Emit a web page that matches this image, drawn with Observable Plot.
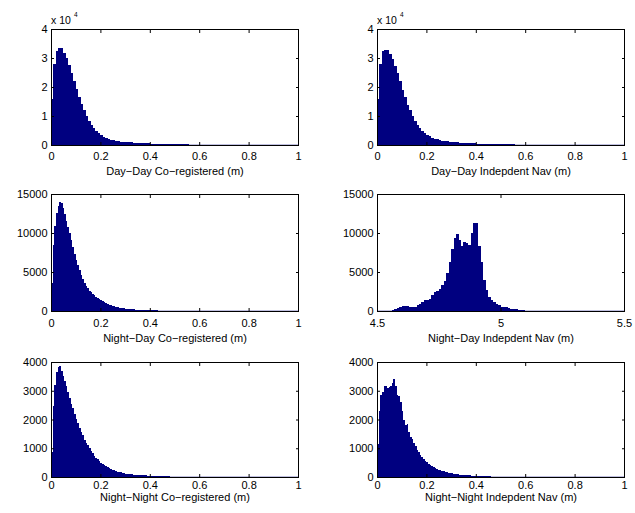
<!DOCTYPE html>
<html><head><meta charset="utf-8">
<script src="https://cdn.jsdelivr.net/npm/d3@7"></script>
<script src="https://cdn.jsdelivr.net/npm/@observablehq/plot@0.6"></script>
<style>
body{margin:0;background:#fff;}
#c{position:relative;width:635px;height:513px;font-family:"Liberation Sans",Arial,Helvetica,sans-serif;background:#fff;}
.p{position:absolute;}
.exp{position:absolute;font-size:10.5px;line-height:10px;white-space:nowrap;color:#000;}
.sup{position:absolute;font-size:6.5px;line-height:7px;color:#000;}
</style></head><body><div id="c"></div>
<script>
// ---- axis tick values ----
const xTicksUnit = [0, 0.2, 0.4, 0.6, 0.8, 1];
const xTicksNav = [4.5, 5, 5.5];
const yTicks4e4 = [0, 10000, 20000, 30000, 40000];
const yTicks15k = [0, 5000, 10000, 15000];
const yTicks4k = [0, 1000, 2000, 3000, 4000];

// ---- x labels ----
const labels = [
  "Day\u2212Day Co\u2212registered (m)",
  "Day\u2212Day Indepdent Nav (m)",
  "Night\u2212Day Co\u2212registered (m)",
  "Night\u2212Day Indepdent Nav (m)",
  "Night\u2212Night Co\u2212registered (m)",
  "Night\u2212Night Indepdent Nav (m)"
];

// ---- histogram counts (bin starts at binStart, each binWidth wide) ----
const dayDayCoreg = [15800, 28000, 32500, 33400, 33400, 31700, 30000, 27700, 25000, 22200,
  19300, 16500, 14200, 12100, 10100, 8400, 6900, 5800, 4800, 4000,
  3300, 2800, 2300, 2000, 1800, 1600, 1450, 1300, 1200, 1120,
  1050, 970, 900, 830, 770, 710, 660, 610, 570, 530,
  500, 470, 440, 410, 380, 350, 330, 310, 290, 270,
  250, 235, 220, 205, 190, 180, 170, 160, 150, 140,
  130, 120, 115, 110, 105, 100, 95, 90, 85, 80,
  75, 70, 66, 62, 58, 55, 52, 49, 46, 43,
  40, 38, 36, 34, 32, 30, 28, 26, 25, 24,
  23, 22, 21, 20, 19, 18, 17, 16, 15, 14];
const dayDayNav = [15800, 28000, 32300, 32800, 32800, 31500, 29600, 27400, 24800, 22000,
  19000, 16400, 13800, 11900, 10000, 8400, 7000, 5900, 5000, 4100,
  3600, 3000, 2500, 2150, 1900, 1700, 1530, 1380, 1250, 1140,
  1050, 970, 900, 830, 770, 710, 660, 610, 570, 530,
  500, 470, 440, 410, 380, 350, 330, 310, 290, 270,
  250, 235, 220, 205, 190, 180, 170, 160, 150, 140,
  130, 120, 115, 110, 105, 100, 95, 90, 85, 80,
  75, 70, 66, 62, 58, 55, 52, 49, 46, 43,
  40, 38, 36, 34, 32, 30, 28, 26, 25, 24,
  23, 22, 21, 20, 19, 18, 17, 16, 15, 14];
const nightDayCoreg = [3600, 8400, 10900, 12600, 13500, 14000, 13800, 13200, 12400, 11600,
  10800, 10000, 9100, 8200, 7300, 6600, 5900, 5200, 4600, 4100,
  3600, 3200, 2900, 2600, 2400, 2200, 2000, 1800, 1650, 1500,
  1380, 1250, 1120, 1000, 900, 800, 720, 650, 580, 520,
  470, 430, 400, 370, 340, 310, 280, 260, 240, 220,
  200, 190, 180, 170, 150, 140, 130, 120, 110, 100,
  90, 80, 75, 70, 65, 60, 55, 50, 45, 40,
  35, 30, 28, 25, 22, 20, 18, 15, 12, 10];
const nightDayNav = [100, 300, 400, 550, 600, 650, 600, 500, 450, 550,
  800, 900, 1200, 1400, 1450, 1600, 2000, 2400, 2600, 2800,
  3300, 3800, 4900, 6300, 7900, 9300, 9900, 9100, 8300, 8800,
  8700, 8400, 10000, 11300, 11300, 8300, 6300, 4000, 2700, 1800,
  1400, 1100, 900, 800, 550, 500, 450, 400, 300, 250,
  200, 150, 100, 80, 50, 30];
const nightNightCoreg = [870, 2480, 3200, 3650, 3830, 3850, 3700, 3520, 3350, 3150,
  2950, 2750, 2550, 2400, 2200, 2020, 1870, 1720, 1580, 1450,
  1300, 1200, 1100, 1000, 900, 820, 740, 670, 620, 560,
  500, 460, 420, 380, 340, 310, 280, 260, 230, 210,
  190, 170, 160, 140, 130, 120, 110, 100, 95, 90,
  85, 80, 75, 70, 65, 60, 58, 55, 50, 48,
  45, 40, 38, 35, 32, 30, 28, 26, 24, 22,
  20, 18, 16, 15, 14, 13, 12, 11, 10];
const nightNightNav = [1150, 2300, 2850, 2950, 3150, 3180, 3100, 3120, 3150, 3280,
  3400, 3150, 2850, 2820, 2600, 2300, 2000, 1800, 1850, 1560,
  1400, 1330, 1200, 1080, 930, 860, 750, 690, 630, 570,
  510, 460, 430, 400, 360, 320, 290, 260, 240, 220,
  200, 180, 160, 150, 140, 130, 120, 110, 100, 90,
  85, 80, 75, 70, 65, 60, 55, 50, 45, 40,
  38, 35, 32, 30, 28, 25, 22, 20, 18, 16,
  14, 12, 10];

const fmtX = d3.format("~g");
const fmtE4 = d => String(d / 10000);
const fmtInt = d3.format("d");

const navy = "#000080";
const container = document.getElementById("c");

function panel(o) {
  const data = o.values.map((v, i) => ({x1: o.binStart + i * o.binWidth, x2: o.binStart + (i + 1) * o.binWidth, y: v}));
  const svg = Plot.plot({
    width: o.w, height: o.h,
    marginLeft: o.mL, marginRight: o.mR, marginTop: o.mT, marginBottom: o.mB,
    style: {fontFamily: "'Liberation Sans', Arial, Helvetica, sans-serif", fontSize: "11px", color: "black", background: "none", overflow: "visible"},
    x: {domain: o.xDomain},
    y: {domain: o.yDomain},
    marks: [
      Plot.rectY(data, {x1: "x1", x2: "x2", y: "y", fill: navy, shapeRendering: "crispEdges", clip: true}),
      Plot.frame({stroke: "black", strokeWidth: 1}),
      Plot.ruleY([0], {stroke: navy, strokeWidth: 1.5, clip: true}),
      Plot.axisX(o.xTicks, {anchor: "bottom", tickSize: -3, tickFormat: () => "", label: null}),
      Plot.axisX(o.xTicks, {anchor: "top", tickSize: -3, tickFormat: () => "", label: null}),
      Plot.axisY(o.yTicks, {anchor: "left", tickSize: -3, tickFormat: () => "", label: null}),
      Plot.axisY(o.yTicks, {anchor: "right", tickSize: -3, tickFormat: () => "", label: null}),
      Plot.axisX(o.xTicks, {anchor: "bottom", tickSize: 0, tickPadding: o.tp, tickFormat: fmtX,
        label: o.label, labelAnchor: "center", labelArrow: "none", labelOffset: o.lo, fontSize: 11}),
      Plot.axisY(o.yTicks, {anchor: "left", tickSize: 0, tickPadding: 4, tickFormat: o.yFormat, label: null})
    ]
  });
  svg.classList.add("p");
  svg.style.left = o.left + "px";
  svg.style.top = o.top + "px";
  container.appendChild(svg);
}

const col = [{left: 0, w: 318, mL: 51, mR: 20}, {left: 318, w: 317, mL: 59, mR: 11}];
const row = [
  {top: 0, h: 171, mT: 29, mB: 26, tp: 7, lo: 29},
  {top: 171, h: 171, mT: 23, mB: 31, tp: 8, lo: 30.5},
  {top: 342, h: 171, mT: 20, mB: 36, tp: 3.5, lo: 23.5}
];

const specs = [
  {values: dayDayCoreg, binStart: 0, binWidth: 0.01, xDomain: [0, 1], xTicks: xTicksUnit, yDomain: [0, 40000], yTicks: yTicks4e4, yFormat: fmtE4, label: labels[0], r: 0, c: 0},
  {values: dayDayNav, binStart: 0, binWidth: 0.01, xDomain: [0, 1], xTicks: xTicksUnit, yDomain: [0, 40000], yTicks: yTicks4e4, yFormat: fmtE4, label: labels[1], r: 0, c: 1},
  {values: nightDayCoreg, binStart: 0, binWidth: 1 / 150, xDomain: [0, 1], xTicks: xTicksUnit, yDomain: [0, 15000], yTicks: yTicks15k, yFormat: fmtInt, label: labels[2], r: 1, c: 0},
  {values: nightDayNav, binStart: 4.56, binWidth: 0.01, xDomain: [4.5, 5.5], xTicks: xTicksNav, yDomain: [0, 15000], yTicks: yTicks15k, yFormat: fmtInt, label: labels[3], r: 1, c: 1},
  {values: nightNightCoreg, binStart: 0, binWidth: 1 / 150, xDomain: [0, 1], xTicks: xTicksUnit, yDomain: [0, 4000], yTicks: yTicks4k, yFormat: fmtInt, label: labels[4], r: 2, c: 0},
  {values: nightNightNav, binStart: 0, binWidth: 1 / 150, xDomain: [0, 1], xTicks: xTicksUnit, yDomain: [0, 4000], yTicks: yTicks4k, yFormat: fmtInt, label: labels[5], r: 2, c: 1}
];
for (const s of specs) panel({...s, ...col[s.c], ...row[s.r]});

// exponent labels (x 10^4) above the top panels
for (const x0 of [51, 377]) {
  const e = document.createElement("div");
  e.className = "exp"; e.textContent = "x 10";
  e.style.left = x0 + "px"; e.style.top = "15px";
  container.appendChild(e);
  const s = document.createElement("div");
  s.className = "sup"; s.textContent = "4";
  s.style.left = (x0 + 23) + "px"; s.style.top = "11px";
  container.appendChild(s);
}
</script>
</body></html>
